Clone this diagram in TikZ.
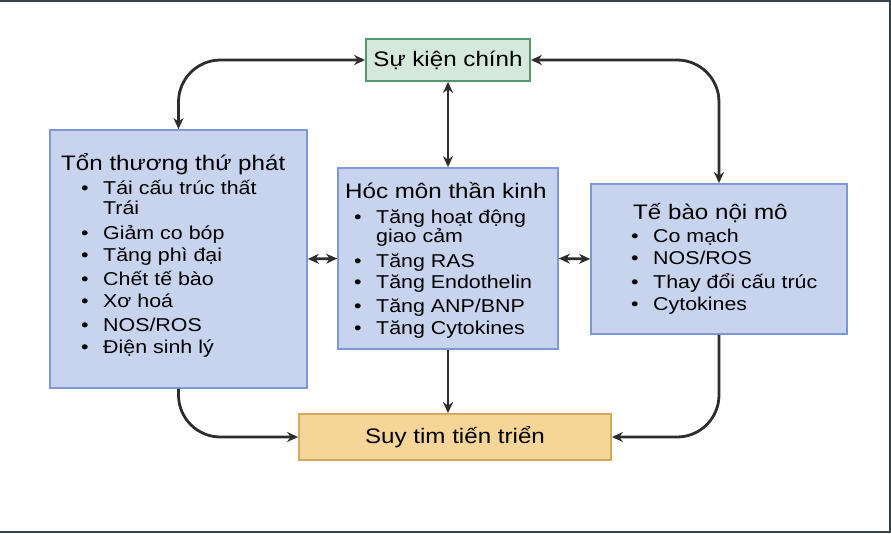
\documentclass[tikz,border=0pt]{standalone}
\usepackage{fontspec}
\setmainfont{Liberation Sans}[FakeStretch=1.15]
\usetikzlibrary{arrows.meta}
\definecolor{boxblue}{RGB}{200,212,238}
\definecolor{lineblue}{RGB}{125,152,212}
\definecolor{boxgreen}{RGB}{212,232,219}
\definecolor{linegreen}{RGB}{88,148,108}
\definecolor{boxorange}{RGB}{246,214,152}
\definecolor{lineorange}{RGB}{214,168,92}
\definecolor{arrowgray}{RGB}{45,45,45}
\definecolor{framegray}{RGB}{52,66,74}
\newcommand{\bul}{\makebox[22pt][l]{\textbullet}}
\tikzset{ box_style/.style = { rectangle % big boxes
        , draw = lineblue
        , fill = boxblue
        , line width = 1.8pt
        , inner sep = 0pt
        }
        , title_style/.style = { anchor = base west % box headings
        , inner sep = 0pt
        , font = \fontsize{21}{24}\selectfont
        }
        , item_style/.style = { anchor = base west % bullet lines
        , inner sep = 0pt
        , font = \fontsize{18.6}{21}\selectfont
        }
        }

\begin{document}
\begin{tikzpicture}[x=1pt, y=-1pt,
        edge_style/.style={draw=arrowgray, line width=2.8pt, >={Stealth[length=11pt,width=10pt]}},
        corner_style/.style={rounded corners=42pt}]
        \useasboundingbox (0,0) rectangle (891,533);
        \draw [framegray, line width=2.4pt] (0,1.2) -- (889.8,1.2) -- (889.8,531.8) -- (0,531.8);

        % boxes
        \node [box_style, draw=linegreen, fill=boxgreen, minimum width=164pt, minimum height=42pt,
                font=\fontsize{21}{24}\selectfont] (event) at (448,60) {Sự kiện chính};
        \node [box_style, minimum width=257pt, minimum height=258pt] (secondary) at (178.5,259) {};
        \node [box_style, minimum width=220pt, minimum height=181pt] (hormone) at (448,258.5) {};
        \node [box_style, minimum width=256pt, minimum height=150pt] (endo) at (719,259) {};
        \node [box_style, draw=lineorange, fill=boxorange, minimum width=312pt, minimum height=46pt,
                font=\fontsize{21}{24}\selectfont] (failure) at (455,437) {Suy tim tiến triển};

        % left box text
        \node [title_style] (sec_title) at (61,170) {Tổn thương thứ phát};
        \node [item_style] (sec1) at (81,194) {\bul Tái cấu trúc thất};
        \node [item_style] (sec1b) at (103,214) {Trái};
        \node [item_style] (sec2) at (81,239) {\bul Giảm co bóp};
        \node [item_style] (sec3) at (81,261) {\bul Tăng phì đại};
        \node [item_style] (sec4) at (81,285) {\bul Chết tế bào};
        \node [item_style] (sec5) at (81,307) {\bul Xơ hoá};
        \node [item_style] (sec6) at (81,331) {\bul NOS/ROS};
        \node [item_style] (sec7) at (81,353) {\bul Điện sinh lý};

        % middle box text
        \node [title_style] (hor_title) at (345,198) {Hóc môn thần kinh};
        \node [item_style] (hor1) at (354,223) {\bul Tăng hoạt động};
        \node [item_style] (hor1b) at (376,242) {giao cảm};
        \node [item_style] (hor2) at (354,267) {\bul Tăng RAS};
        \node [item_style] (hor3) at (354,288) {\bul Tăng Endothelin};
        \node [item_style] (hor4) at (354,312) {\bul Tăng ANP/BNP};
        \node [item_style] (hor5) at (354,334) {\bul Tăng Cytokines};

        % right box text
        \node [title_style] (endo_title) at (633,219) {Tế bào nội mô};
        \node [item_style] (endo1) at (631,242) {\bul Co mạch};
        \node [item_style] (endo2) at (631,264) {\bul NOS/ROS};
        \node [item_style] (endo3) at (631,288) {\bul Thay đổi cấu trúc};
        \node [item_style] (endo4) at (631,310) {\bul Cytokines};

        % connectors
        \draw [edge_style, corner_style, <->] (secondary.north) |- (event.west);
        \draw [edge_style, corner_style, <->] (endo.north) |- (event.east);
        \draw [edge_style, <->] (event.south) -- (hormone.north);
        \draw [edge_style, <->] (secondary.east) -- (hormone.west);
        \draw [edge_style, <->] (hormone.east) -- (endo.west);
        \draw [edge_style, ->] (hormone.south) -- (hormone.south |- failure.north);
        \draw [edge_style, corner_style, ->] (secondary.south) |- (failure.west);
        \draw [edge_style, corner_style, ->] (endo.south) |- (failure.east);
\end{tikzpicture}
\end{document}
